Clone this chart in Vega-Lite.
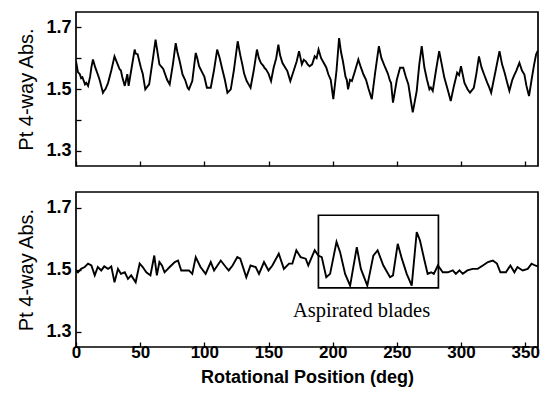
{
  "$schema": "https://vega.github.io/schema/vega-lite/v6.json",
  "padding": {"left": 16, "top": 11, "right": 3, "bottom": 0},
  "spacing": 26,
  "bounds": "flush",
  "background": "white",
  "config": {
    "view": {"stroke": "black", "strokeWidth": 1.7},
    "font": "Liberation Sans",
    "axis": {
      "domain": false,
      "grid": false,
      "tickColor": "black",
      "tickWidth": 1.3,
      "tickSize": -5,
      "labelColor": "black",
      "titleColor": "black",
      "labelFont": "Liberation Sans",
      "titleFont": "Liberation Sans"
    }
  },
  "datasets": {
    "top": [
      {"deg":0,"abs":1.59},{"deg":1.5,"abs":1.555},{"deg":3,"abs":1.548},{"deg":4,"abs":1.535},{"deg":5,"abs":1.538},{"deg":7,"abs":1.515},{"deg":8,"abs":1.52},{"deg":9.4,"abs":1.51},{"deg":11,"abs":1.54},{"deg":12,"abs":1.57},{"deg":13.2,"abs":1.596},{"deg":15,"abs":1.57},{"deg":17,"abs":1.547},{"deg":18,"abs":1.535},{"deg":19,"abs":1.52},{"deg":21,"abs":1.488},{"deg":22,"abs":1.495},{"deg":23,"abs":1.5},{"deg":25,"abs":1.52},{"deg":27.5,"abs":1.56},{"deg":30,"abs":1.606},{"deg":32,"abs":1.585},{"deg":34,"abs":1.564},{"deg":35,"abs":1.56},{"deg":36,"abs":1.54},{"deg":38,"abs":1.51},{"deg":40,"abs":1.548},{"deg":41,"abs":1.51},{"deg":43,"abs":1.56},{"deg":45.7,"abs":1.628},{"deg":46.5,"abs":1.615},{"deg":48,"abs":1.613},{"deg":50.6,"abs":1.569},{"deg":52,"abs":1.55},{"deg":54,"abs":1.499},{"deg":56,"abs":1.51},{"deg":57,"abs":1.515},{"deg":60,"abs":1.6},{"deg":62,"abs":1.66},{"deg":63.5,"abs":1.62},{"deg":65,"abs":1.58},{"deg":67,"abs":1.57},{"deg":68,"abs":1.565},{"deg":69,"abs":1.553},{"deg":71,"abs":1.53},{"deg":73,"abs":1.515},{"deg":75.5,"abs":1.58},{"deg":77.7,"abs":1.649},{"deg":79,"abs":1.62},{"deg":80.8,"abs":1.59},{"deg":83,"abs":1.547},{"deg":85,"abs":1.53},{"deg":87,"abs":1.504},{"deg":88,"abs":1.499},{"deg":90.6,"abs":1.526},{"deg":93.3,"abs":1.617},{"deg":94.5,"abs":1.6},{"deg":95.9,"abs":1.574},{"deg":97,"abs":1.565},{"deg":98.4,"abs":1.553},{"deg":100,"abs":1.54},{"deg":102,"abs":1.504},{"deg":105,"abs":1.504},{"deg":107.5,"abs":1.56},{"deg":110,"abs":1.628},{"deg":112,"abs":1.6},{"deg":114,"abs":1.564},{"deg":116,"abs":1.53},{"deg":118,"abs":1.488},{"deg":120.6,"abs":1.499},{"deg":123,"abs":1.56},{"deg":126,"abs":1.655},{"deg":128,"abs":1.61},{"deg":129.6,"abs":1.58},{"deg":131,"abs":1.55},{"deg":133,"abs":1.526},{"deg":134.5,"abs":1.515},{"deg":136,"abs":1.504},{"deg":138.5,"abs":1.56},{"deg":141,"abs":1.628},{"deg":142.5,"abs":1.6},{"deg":144,"abs":1.585},{"deg":145,"abs":1.58},{"deg":146,"abs":1.575},{"deg":147,"abs":1.568},{"deg":148,"abs":1.564},{"deg":150,"abs":1.55},{"deg":152,"abs":1.526},{"deg":154,"abs":1.569},{"deg":156,"abs":1.6},{"deg":157.7,"abs":1.644},{"deg":159,"abs":1.61},{"deg":160.8,"abs":1.585},{"deg":163,"abs":1.57},{"deg":164.7,"abs":1.558},{"deg":167,"abs":1.526},{"deg":170,"abs":1.564},{"deg":172,"abs":1.59},{"deg":173.8,"abs":1.623},{"deg":176,"abs":1.58},{"deg":177.5,"abs":1.595},{"deg":179,"abs":1.59},{"deg":180.5,"abs":1.58},{"deg":182,"abs":1.574},{"deg":184,"abs":1.58},{"deg":186,"abs":1.606},{"deg":187.5,"abs":1.6},{"deg":189,"abs":1.628},{"deg":191,"abs":1.6},{"deg":193,"abs":1.585},{"deg":195,"abs":1.57},{"deg":196.7,"abs":1.547},{"deg":198.5,"abs":1.53},{"deg":200.5,"abs":1.467},{"deg":203,"abs":1.56},{"deg":205,"abs":1.665},{"deg":206.5,"abs":1.62},{"deg":208,"abs":1.59},{"deg":210,"abs":1.54},{"deg":211,"abs":1.53},{"deg":212,"abs":1.499},{"deg":213.5,"abs":1.53},{"deg":215,"abs":1.526},{"deg":217.5,"abs":1.56},{"deg":220,"abs":1.596},{"deg":222,"abs":1.57},{"deg":224,"abs":1.547},{"deg":226,"abs":1.53},{"deg":228,"abs":1.5},{"deg":230.5,"abs":1.467},{"deg":233,"abs":1.55},{"deg":236,"abs":1.639},{"deg":238,"abs":1.6},{"deg":241,"abs":1.569},{"deg":243,"abs":1.55},{"deg":244.7,"abs":1.526},{"deg":245.5,"abs":1.52},{"deg":247,"abs":1.456},{"deg":250,"abs":1.53},{"deg":252.5,"abs":1.569},{"deg":255,"abs":1.569},{"deg":257,"abs":1.54},{"deg":259,"abs":1.515},{"deg":261,"abs":1.46},{"deg":262.4,"abs":1.424},{"deg":264,"abs":1.46},{"deg":265.5,"abs":1.494},{"deg":267.5,"abs":1.58},{"deg":269.4,"abs":1.639},{"deg":271.5,"abs":1.569},{"deg":273.5,"abs":1.53},{"deg":275.4,"abs":1.499},{"deg":276.5,"abs":1.505},{"deg":278,"abs":1.494},{"deg":280.5,"abs":1.56},{"deg":283,"abs":1.623},{"deg":285,"abs":1.58},{"deg":287,"abs":1.537},{"deg":289.5,"abs":1.5},{"deg":292,"abs":1.461},{"deg":294.5,"abs":1.51},{"deg":297,"abs":1.553},{"deg":298.5,"abs":1.545},{"deg":300,"abs":1.574},{"deg":302.7,"abs":1.52},{"deg":305,"abs":1.5},{"deg":307,"abs":1.488},{"deg":310,"abs":1.504},{"deg":312,"abs":1.55},{"deg":314,"abs":1.606},{"deg":316,"abs":1.57},{"deg":318,"abs":1.547},{"deg":320.5,"abs":1.52},{"deg":322,"abs":1.505},{"deg":323.5,"abs":1.488},{"deg":327,"abs":1.56},{"deg":330,"abs":1.623},{"deg":332,"abs":1.58},{"deg":334,"abs":1.553},{"deg":336,"abs":1.52},{"deg":337.7,"abs":1.494},{"deg":340,"abs":1.53},{"deg":341.5,"abs":1.545},{"deg":343,"abs":1.558},{"deg":345.5,"abs":1.585},{"deg":347.5,"abs":1.56},{"deg":349.4,"abs":1.547},{"deg":351,"abs":1.51},{"deg":353,"abs":1.477},{"deg":355,"abs":1.53},{"deg":357,"abs":1.58},{"deg":358.5,"abs":1.612},{"deg":360,"abs":1.625}
    ],
    "bottom": [
      {"deg":0,"abs":1.497},{"deg":1.5,"abs":1.491},{"deg":4,"abs":1.502},{"deg":6.8,"abs":1.508},{"deg":9.4,"abs":1.519},{"deg":12,"abs":1.513},{"deg":14.6,"abs":1.481},{"deg":17,"abs":1.508},{"deg":19.7,"abs":1.497},{"deg":22,"abs":1.51},{"deg":25,"abs":1.502},{"deg":27.5,"abs":1.51},{"deg":30,"abs":1.459},{"deg":32.7,"abs":1.502},{"deg":35,"abs":1.486},{"deg":38,"abs":1.491},{"deg":40.5,"abs":1.47},{"deg":43,"abs":1.481},{"deg":46.5,"abs":1.459},{"deg":49.6,"abs":1.519},{"deg":52,"abs":1.508},{"deg":54.8,"abs":1.491},{"deg":58,"abs":1.481},{"deg":61,"abs":1.545},{"deg":63,"abs":1.481},{"deg":65,"abs":1.524},{"deg":67,"abs":1.513},{"deg":69,"abs":1.491},{"deg":73,"abs":1.508},{"deg":77,"abs":1.524},{"deg":79.5,"abs":1.529},{"deg":82,"abs":1.497},{"deg":86,"abs":1.497},{"deg":88,"abs":1.497},{"deg":90.6,"abs":1.486},{"deg":93.3,"abs":1.54},{"deg":97,"abs":1.508},{"deg":101,"abs":1.486},{"deg":105,"abs":1.524},{"deg":107.6,"abs":1.497},{"deg":112.8,"abs":1.529},{"deg":116.7,"abs":1.508},{"deg":119,"abs":1.497},{"deg":122,"abs":1.513},{"deg":125.7,"abs":1.54},{"deg":128,"abs":1.535},{"deg":132.7,"abs":1.475},{"deg":136,"abs":1.513},{"deg":140,"abs":1.508},{"deg":142.6,"abs":1.486},{"deg":146.5,"abs":1.524},{"deg":150,"abs":1.497},{"deg":153,"abs":1.513},{"deg":158,"abs":1.551},{"deg":162,"abs":1.502},{"deg":166,"abs":1.519},{"deg":168.6,"abs":1.519},{"deg":171.7,"abs":1.562},{"deg":175,"abs":1.54},{"deg":179,"abs":1.535},{"deg":181,"abs":1.513},{"deg":183.7,"abs":1.54},{"deg":186,"abs":1.562},{"deg":188.8,"abs":1.545},{"deg":191.5,"abs":1.54},{"deg":195,"abs":1.475},{"deg":198,"abs":1.486},{"deg":203,"abs":1.589},{"deg":205.8,"abs":1.556},{"deg":209.7,"abs":1.486},{"deg":213.6,"abs":1.448},{"deg":218.8,"abs":1.572},{"deg":222,"abs":1.502},{"deg":227,"abs":1.448},{"deg":231.7,"abs":1.545},{"deg":235,"abs":1.562},{"deg":239.5,"abs":1.513},{"deg":244.7,"abs":1.475},{"deg":247,"abs":1.481},{"deg":250.7,"abs":1.583},{"deg":253.9,"abs":1.535},{"deg":257.7,"abs":1.486},{"deg":261.6,"abs":1.448},{"deg":265.5,"abs":1.621},{"deg":268,"abs":1.594},{"deg":271.5,"abs":1.53},{"deg":274,"abs":1.486},{"deg":276.7,"abs":1.491},{"deg":278.8,"abs":1.486},{"deg":282,"abs":1.513},{"deg":285.8,"abs":1.491},{"deg":289.7,"abs":1.491},{"deg":293.6,"abs":1.497},{"deg":296,"abs":1.486},{"deg":298.8,"abs":1.497},{"deg":301.4,"abs":1.486},{"deg":305,"abs":1.497},{"deg":309,"abs":1.502},{"deg":313,"abs":1.502},{"deg":317,"abs":1.513},{"deg":321,"abs":1.524},{"deg":324.8,"abs":1.529},{"deg":328,"abs":1.519},{"deg":330.7,"abs":1.491},{"deg":335,"abs":1.491},{"deg":338.5,"abs":1.513},{"deg":341.6,"abs":1.491},{"deg":344,"abs":1.508},{"deg":348,"abs":1.497},{"deg":352,"abs":1.502},{"deg":355,"abs":1.519},{"deg":357.7,"abs":1.513},{"deg":360,"abs":1.51}
    ],
    "box": [{"x1":188.9,"x2":282.4,"y1":1.675,"y2":1.441}],
    "note": [{"deg":222.5,"abs":1.367,"label":"Aspirated blades"}]
  },
  "vconcat": [
    {
      "width": 462,
      "height": 154,
      "data": {"name": "top"},
      "mark": {"type": "line", "color": "black", "strokeWidth": 1.9, "clip": true},
      "encoding": {
        "x": {"field": "deg", "type": "quantitative",
              "scale": {"domain": [0, 360], "nice": false, "zero": false},
              "axis": {"values": [0,50,100,150,200,250,300,350], "labels": false, "title": null}},
        "y": {"field": "abs", "type": "quantitative",
              "scale": {"domain": [1.25, 1.75], "nice": false, "zero": false},
              "axis": {"values": [1.3,1.4,1.5,1.6,1.7], "labelExpr": "datum.value == 1.4 || datum.value == 1.6 ? '' : format(datum.value, '.1f')",
                       "title": "Pt 4-way Abs.", "titleFontSize": 20, "titleFontWeight": "normal", "titlePadding": 9,
                       "labelFontSize": 18, "labelFontWeight": "bold", "labelPadding": 10}}
      }
    },
    {
      "width": 462,
      "height": 155,
      "layer": [
        {
          "data": {"name": "bottom"},
          "mark": {"type": "line", "color": "black", "strokeWidth": 1.9, "clip": true},
          "encoding": {
            "x": {"field": "deg", "type": "quantitative",
                  "scale": {"domain": [0, 360], "nice": false, "zero": false},
                  "axis": {"values": [0,50,100,150,200,250,300,350], "labelFontSize": 17, "labelFontWeight": "bold", "labelPadding": 2, "labelFlush": false,
                           "title": "Rotational Position (deg)", "titleFontSize": 18, "titleFontWeight": "bold", "titlePadding": 8}},
            "y": {"field": "abs", "type": "quantitative",
                  "scale": {"domain": [1.25, 1.75], "nice": false, "zero": false},
                  "axis": {"values": [1.3,1.4,1.5,1.6,1.7], "labelExpr": "datum.value == 1.4 || datum.value == 1.6 ? '' : format(datum.value, '.1f')",
                           "title": "Pt 4-way Abs.", "titleFontSize": 20, "titleFontWeight": "normal", "titlePadding": 9,
                           "labelFontSize": 18, "labelFontWeight": "bold", "labelPadding": 10}}
          }
        },
        {
          "data": {"name": "box"},
          "mark": {"type": "rect", "filled": false, "stroke": "black", "strokeWidth": 1.7},
          "encoding": {
            "x": {"field": "x1", "type": "quantitative"},
            "x2": {"field": "x2"},
            "y": {"field": "y1", "type": "quantitative"},
            "y2": {"field": "y2"}
          }
        },
        {
          "data": {"name": "note"},
          "mark": {"type": "text", "font": "Liberation Serif", "fontSize": 20.5, "color": "black", "align": "center", "baseline": "middle"},
          "encoding": {
            "x": {"field": "deg", "type": "quantitative"},
            "y": {"field": "abs", "type": "quantitative"},
            "text": {"field": "label"}
          }
        }
      ]
    }
  ]
}
